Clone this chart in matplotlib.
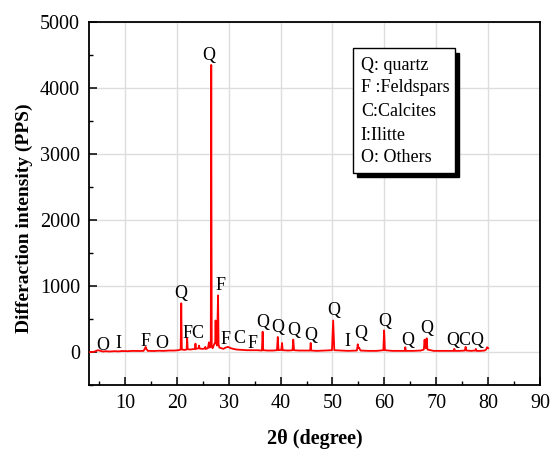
import matplotlib.pyplot as plt
from matplotlib.patches import Rectangle
from matplotlib.ticker import MultipleLocator

plt.rcParams['font.family'] = ['Liberation Serif', 'DejaVu Serif']

# XRD pattern (2theta in degree, intensity in PPS)
two_theta = [3.0, 4.0, 4.8, 5.3, 5.8, 6.3, 7.0, 8.0, 8.8, 9.5,
             10.5, 11.5, 12.5, 13.6, 13.9, 14.0, 14.1, 14.4, 15.5, 16.5,
             17.5, 18.5, 19.5, 20.3, 20.75, 20.86, 20.97, 21.5, 21.9, 22.0,
             22.1, 22.6, 23.0, 23.5, 23.6, 23.7, 24.0, 24.2, 24.3, 24.4,
             24.9, 25.4, 25.5, 25.6, 26.0, 26.2, 26.35, 26.55, 26.64, 26.73,
             26.9, 27.2, 27.4, 27.48, 27.56, 27.75, 27.95, 28.05, 28.2, 28.6,
             29.0, 29.4, 29.9, 30.4, 30.9, 31.5, 32.5, 33.5, 34.5, 35.5,
             36.4, 36.54, 36.65, 37.5, 38.5, 39.3, 39.46, 39.6, 40.15, 40.28,
             40.4, 41.5, 42.3, 42.44, 42.6, 43.5, 44.5, 45.7, 45.8, 45.9,
             47.0, 48.5, 49.9, 50.13, 50.35, 51.5, 53.0, 54.7, 54.87, 55.0,
             55.1, 55.4, 57.0, 58.5, 59.8, 59.95, 60.1, 61.5, 63.0, 63.9,
             64.02, 64.15, 65.5, 67.0, 67.6, 67.74, 67.85, 68.0, 68.14, 68.3,
             69.5, 71.0, 72.5, 73.35, 73.47, 73.6, 74.5, 75.5, 75.65, 75.8,
             76.7, 77.5, 77.62, 77.75, 78.5, 79.3, 79.6, 79.8, 80.0]
intensity = [0, 5, 30, 20, 10, 15, 10, 15, 12, 18,
             15, 20, 18, 20, 60, 80, 55, 20, 18, 22,
             20, 25, 25, 30, 40, 740, 40, 35, 40, 210,
             45, 40, 45, 50, 130, 50, 55, 60, 100, 55,
             50, 55, 80, 50, 60, 150, 70, 90, 4350, 90,
             60, 120, 150, 480, 150, 100, 860, 120, 70, 60,
             50, 70, 80, 60, 50, 40, 35, 30, 30, 30,
             25, 310, 30, 25, 25, 30, 230, 30, 35, 140,
             30, 25, 30, 190, 30, 25, 25, 25, 140, 25,
             20, 25, 30, 480, 30, 25, 20, 25, 120, 60,
             70, 25, 20, 20, 30, 330, 30, 20, 20, 20,
             75, 20, 20, 25, 40, 190, 100, 60, 210, 40,
             20, 20, 20, 20, 50, 20, 20, 25, 80, 25,
             20, 25, 50, 20, 20, 25, 40, 75, 60]

# phase labels above the peaks
label_text = ['O', 'I', 'F', 'O', 'Q', 'FC', 'Q', 'F', 'F', 'C', 'F', 'Q', 'Q',
              'Q', 'Q', 'Q', 'I', 'Q', 'Q', 'Q', 'Q', 'QCQ']
label_x = [5.8, 8.8, 13.9, 17.1, 20.8, 23.3, 26.2, 28.5, 29.4, 32.0, 34.5, 36.5, 39.5,
           42.6, 45.8, 50.3, 52.9, 55.5, 60.1, 64.5, 68.1, 75.6]
label_y = [106, 136, 167, 136, 894, 288, 4500, 1015, 197, 212, 132, 450, 374,
           333, 258, 636, 167, 283, 460, 171, 359, 182]

legend_lines = ['Q: quartz', 'F :Feldspars', 'C:Calcites', 'I:Ilitte', 'O: Others']

fig = plt.figure(figsize=(5.5, 4.5), dpi=100)
ax = fig.add_axes([0.161, 0.144, 0.821, 0.807])

ax.plot(two_theta, intensity, color='red', lw=1.3, zorder=3)

for t, x, y in zip(label_text, label_x, label_y):
    ax.text(x, y, t, ha='center', va='center', fontsize=13, zorder=4)

ax.set_xlim(3, 90)
ax.set_ylim(-500, 5000)
ax.xaxis.set_major_locator(MultipleLocator(10))
ax.xaxis.set_minor_locator(MultipleLocator(5))
ax.yaxis.set_major_locator(MultipleLocator(1000))
ax.yaxis.set_minor_locator(MultipleLocator(500))
ax.tick_params(which='both', direction='in', labelsize=14.5)
ax.tick_params(which='major', length=6, width=1.1, pad=6)
ax.tick_params(which='minor', length=3, width=1.0)
ax.grid(True, which='major', color='#dddddd', lw=1.0, zorder=0)
ax.set_axisbelow(True)
for s in ax.spines.values():
    s.set_linewidth(1.3)

ax.set_xlabel('2θ (degree)', fontsize=14.5, fontweight='bold', labelpad=12)
ax.set_ylabel('Differaction intensity (PPS)', fontsize=14, fontweight='bold')
ax.yaxis.set_label_coords(-0.122, 0.46)

# legend box with hard black shadow
bx, by, bw, bh = 0.585, 0.585, 0.227, 0.3425
ax.add_patch(Rectangle((bx + 0.009, by - 0.012), bw, bh, transform=ax.transAxes,
                       facecolor='black', edgecolor='black', zorder=5))
ax.add_patch(Rectangle((bx, by), bw, bh, transform=ax.transAxes,
                       facecolor='white', edgecolor='black', lw=1.0, zorder=6))
line_y = [0.8815, 0.8201, 0.7548, 0.6887, 0.6262]
for txt, yy in zip(legend_lines, line_y):
    ax.text(0.603, yy, txt, transform=ax.transAxes, ha='left', va='center',
            fontsize=13, zorder=7)

fig.savefig('out.png', dpi=100)
